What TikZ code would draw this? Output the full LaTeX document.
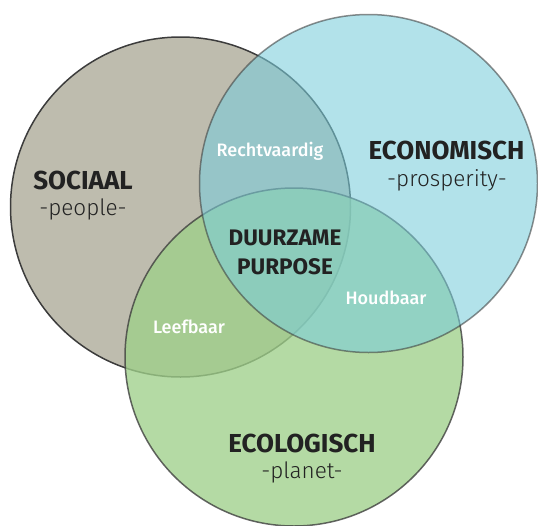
\documentclass[tikz,border=0pt]{standalone}
\usepackage{fontspec}
\setmainfont{Fira Sans}
\newfontfamily\lightfont{Fira Sans Light}
\newfontfamily\medfont{Fira Sans Medium}
\definecolor{socfill}{RGB}{190,188,174}
\definecolor{econfill}{RGB}{122,205,219}
\definecolor{ecofill}{RGB}{159,208,138}
\definecolor{ringcol}{RGB}{60,60,60}
\definecolor{txt}{RGB}{34,34,34}
\begin{document}
\begin{tikzpicture}[x=1pt,y=-1pt,
  ring/.style={circle,draw=ringcol,line width=1.5pt,inner sep=0pt},
  title/.style={text=txt,font=\fontsize{26}{28}\selectfont\bfseries},
  sub/.style={text=txt,font=\fontsize{22.5}{26}\lightfont},
  overlap/.style={text=white,font=\fontsize{18}{20}\medfont},
  core/.style={text=txt,font=\fontsize{22.5}{29}\selectfont\bfseries,align=center}]
\useasboundingbox (0,0) rectangle (538,525);
\node[ring,fill=socfill,minimum size=340pt] (soc) at (180.5,207) {};
\node[ring,fill=ecofill,opacity=0.78,minimum size=338pt] (eco) at (294,357) {};
\node[ring,fill=econfill,opacity=0.58,minimum size=338pt] (econ) at (368.5,183.5) {};
\node[title] (tsoc) at (83,180) {SOCIAAL};
\node[sub] (ssoc) at (83,209) {-people-};
\node[title] (tecon) at (446.5,150) {ECONOMISCH};
\node[sub] (secon) at (447,180) {-prosperity-};
\node[title] (teco) at (302,443) {ECOLOGISCH};
\node[sub] (seco) at (302,472) {-planet-};
\node[overlap] (recht) at (270,151) {Rechtvaardig};
\node[overlap] (houd) at (386,298) {Houdbaar};
\node[overlap] (leef) at (189,327) {Leefbaar};
\node[core] (dp) at (285,252) {DUURZAME\\PURPOSE};
\end{tikzpicture}
\end{document}
